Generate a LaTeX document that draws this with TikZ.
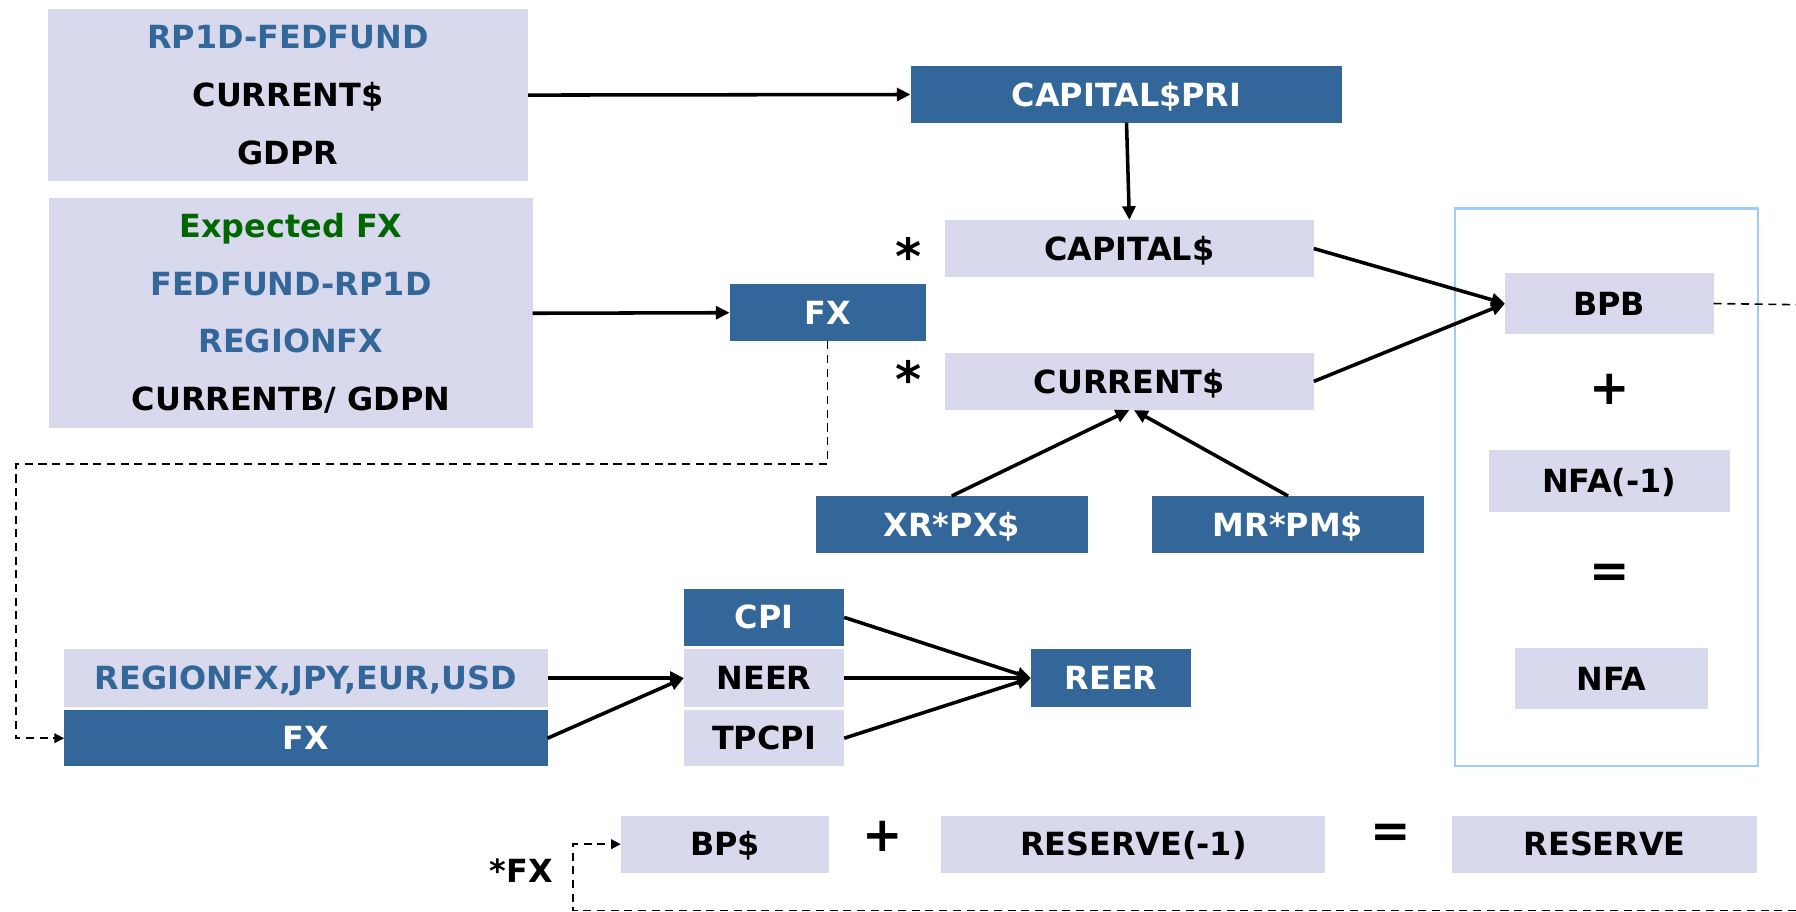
\documentclass[tikz,border=0pt]{standalone}
\usepackage{fontspec}
\setmainfont{DejaVu Sans}
\usetikzlibrary{arrows.meta}

\definecolor{navy}{RGB}{51,102,153}
\definecolor{lav}{RGB}{216,217,236}
\definecolor{deepgreen}{RGB}{0,102,0}
\definecolor{framecol}{RGB}{160,205,245}

\newcommand\lblfont{\fontsize{19.8}{23.8}\selectfont\bfseries}
\newcommand\stackfont{\fontsize{19.8}{35.8}\selectfont\bfseries}
\newcommand\opfont{\fontsize{30}{34}\selectfont\bfseries}
\newcommand\astfont{\fontsize{31}{34}\selectfont\bfseries}

% box from corner (x1,y1) to corner (x2,y2), unit = 0.025cm
\newcommand\bx[7]{%
  \node[#6, minimum width={(#4-#2)*0.71132pt}, minimum height={(#5-#3)*0.71132pt}]
    (#1) at ({(#2+#4)/2},{(#3+#5)/2}) {#7};}

\tikzset{
  boxbase/.style={inner sep=0pt, outer sep=0pt, font=\lblfont},
  onel/.style={text height=14.4pt, text depth=0pt},
  lbox/.style={boxbase, onel, fill=lav, text=black},
  dbox/.style={boxbase, onel, fill=navy, text=white},
  sbox/.style={boxbase, fill=lav, text=black, align=center, font=\stackfont},
  frm/.style={inner sep=0pt, outer sep=0pt, draw=framecol, line width=1.4pt},
  conn/.style={line width=2.2pt, -{Triangle[length=8.5pt,width=8pt]}},
  dconn/.style={line width=1pt, dash pattern=on 5pt off 3.5pt},
  dtip/.style={-{Triangle[length=6pt,width=6pt]}},
  op/.style={font=\opfont, inner sep=0pt},
  ast/.style={font=\astfont, inner sep=0pt, anchor=base},
}

\begin{document}
\begin{tikzpicture}[x=0.025cm, y=-0.025cm]
\useasboundingbox (0,0) rectangle (1568,796);

% input blocks on the left
\bx{b1}{42}{8}{461}{158}{sbox}{\textcolor{navy}{RP1D-FEDFUND}\\CURRENT\$\\GDPR}
\bx{b2}{43}{173}{465}{374}{sbox}{\textcolor{deepgreen}{Expected FX}\\\textcolor{navy}{FEDFUND-RP1D}\\\textcolor{navy}{REGIONFX}\\CURRENTB/ GDPN}

% capital and current account
\bx{cappri}{795}{58}{1172}{107}{dbox}{CAPITAL\$PRI}
\bx{fx}{637}{248}{808}{298}{dbox}{FX}
\bx{cap}{825}{192}{1147}{242}{lbox}{CAPITAL\$}
\bx{cur}{825}{308}{1147}{358}{lbox}{CURRENT\$}
\bx{xr}{712}{433}{950}{483}{dbox}{XR*PX\$}
\bx{mr}{1006}{433}{1243}{483}{dbox}{MR*PM\$}
\node[ast] (ast1) at (793,240) {*};
\node[ast] (ast2) at (793,347) {*};

% net foreign assets identity
\bx{frame}{1270}{182}{1535}{669}{frm}{}
\bx{bpb}{1314}{238}{1496}{292}{lbox}{BPB}
\node[op] (plus1) at (1405,340) {+};
\bx{nfa1}{1300}{393}{1510}{447}{lbox}{NFA(-1)}
\node[op] (eq1) at (1405,503) {=};
\bx{nfa}{1323}{566}{1491}{619}{lbox}{NFA}

% exchange rates and REER
\bx{rfx}{56}{567}{478}{617}{lbox,text=navy}{REGIONFX,JPY,EUR,USD}
\bx{fx2}{56}{620}{478}{669}{dbox}{FX}
\bx{cpi}{597}{514}{737}{564}{dbox}{CPI}
\bx{neer}{597}{567}{737}{617}{lbox}{NEER}
\bx{tpcpi}{597}{620}{737}{669}{lbox}{TPCPI}
\bx{reer}{900}{567}{1040}{617}{dbox}{REER}

% reserves identity
\bx{bp}{542}{712}{724}{762}{lbox}{BP\$}
\node[op] (plus2) at (771,730) {+};
\bx{res1}{822}{712}{1157}{762}{lbox}{RESERVE(-1)}
\node[op] (eq2) at (1214,730) {=};
\bx{res}{1268}{712}{1534}{762}{lbox}{RESERVE}
\node[font=\lblfont, inner sep=0pt] (fxlab) at (455,760) {*FX};

% solid connectors
\draw[conn] (b1.east) -- (cappri.west);
\draw[conn] (b2.east) -- (fx.west);
\draw[conn] (cappri.south) -- (cap.north);
\draw[conn] (xr.north) -- (cur.south);
\draw[conn] (mr.north) -- ([xshift=0.1cm]cur.south);
\draw[conn] (cap.east) -- (bpb.west);
\draw[conn] (cur.east) -- (bpb.west);
\draw[conn] (rfx.east) -- (neer.west);
\draw[conn] (fx2.east) -- (neer.west);
\draw[conn] (cpi.east) -- (reer.west);
\draw[conn] (neer.east) -- (reer.west);
\draw[conn] (tpcpi.east) -- (reer.west);

% dashed feedback lines
\coordinate (fxturn) at (14,405);
\draw[dconn, dtip] (fx.south) |- (fxturn) |- (fx2.west);
\coordinate (bpbend) at (1568,266);
\draw[dconn] (bpb.east) -- (bpbend);
\coordinate (rsin) at (1568,795);
\coordinate (rsturn) at (500,795);
\draw[dconn, dtip] (rsin) -- (rsturn) |- (bp.west);
\end{tikzpicture}
\end{document}
